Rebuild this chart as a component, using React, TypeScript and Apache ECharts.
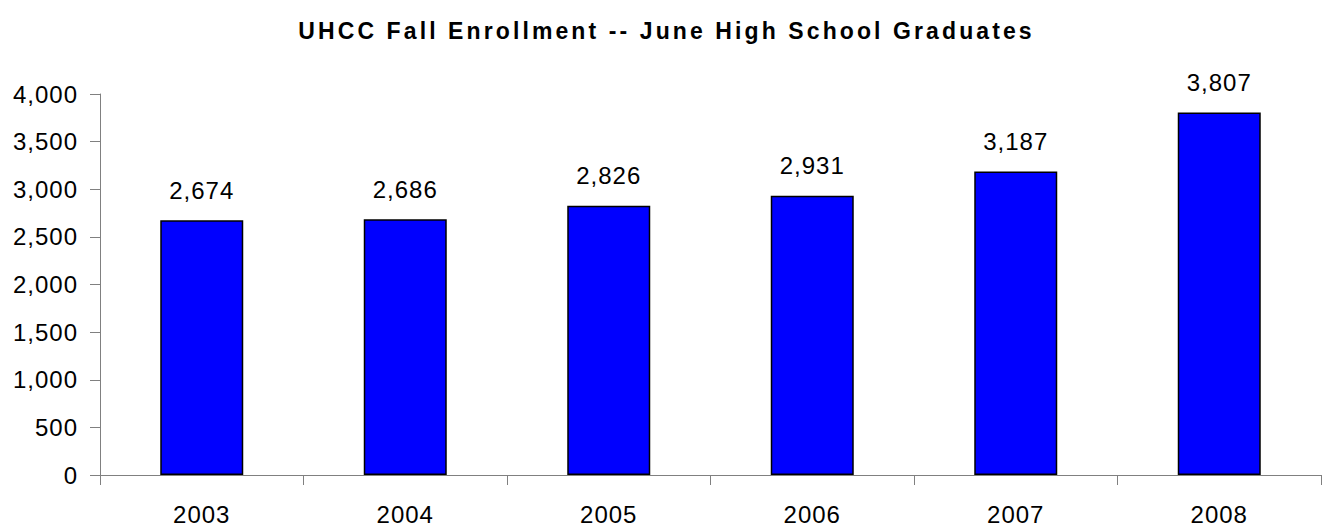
import React, { useEffect, useRef } from "react";
import * as echarts from "echarts";

const title = "UHCC Fall Enrollment -- June High School Graduates";
const years = ["2003", "2004", "2005", "2006", "2007", "2008"];
const enrollment = [2674, 2686, 2826, 2931, 3187, 3807];

const fmt = (v: number) => v.toLocaleString("en-US");

const css = `
#uhcc-chart svg text { letter-spacing: 1px; }
#uhcc-chart svg text[style*="bold"], #uhcc-chart svg text[font-weight="bold"] { letter-spacing: 3.1px; }
`;

export default function App() {
  const ref = useRef<HTMLDivElement>(null);
  useEffect(() => {
    document.body.style.margin = "0";
    const chart = echarts.init(ref.current!, null, { renderer: "svg" });
    const font = "'Liberation Sans', Arial, sans-serif";
    chart.setOption({
      animation: false,
      backgroundColor: "#ffffff",
      title: {
        text: title,
        left: "center",
        top: 14,
        textStyle: { fontFamily: font, fontSize: 23, fontWeight: "bold", color: "#000" },
      },
      grid: { left: 100, right: 12, top: 94, bottom: 54, containLabel: false },
      xAxis: {
        type: "category",
        data: years,
        axisLine: { lineStyle: { color: "#808080", width: 1 } },
        axisTick: { show: true, length: 10, lineStyle: { color: "#808080" } },
        axisLabel: { color: "#000", fontFamily: font, fontSize: 24, margin: 27 },
      },
      yAxis: {
        type: "value",
        min: 0,
        max: 4000,
        interval: 500,
        splitLine: { show: false },
        axisLine: { show: true, lineStyle: { color: "#808080", width: 1 } },
        axisTick: { show: true, length: 10, lineStyle: { color: "#808080" } },
        axisLabel: {
          color: "#000",
          fontFamily: font,
          fontSize: 24,
          margin: 22,
          formatter: (v: number) => fmt(v),
        },
      },
      series: [
        {
          type: "bar",
          data: enrollment,
          barWidth: 83,
          itemStyle: { color: "#0000ff", borderColor: "#000", borderWidth: 1.5 },
          label: {
            show: true,
            position: "top",
            distance: 18,
            color: "#000",
            fontFamily: font,
            fontSize: 24,
            formatter: (p: any) => fmt(p.value),
          },
        },
      ],
    });
    return () => chart.dispose();
  }, []);
  return (
    <>
      <style>{css}</style>
      <div id="uhcc-chart" ref={ref} style={{ width: 1333, height: 529 }} />
    </>
  );
}
